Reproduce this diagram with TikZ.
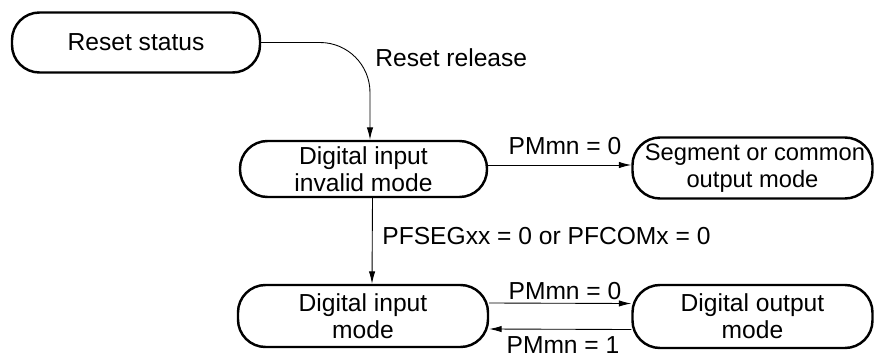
\documentclass[tikz,border=0pt]{standalone}
\usepackage{fontspec}
\setmainfont{Liberation Sans}
\usepackage{tikz}
\usetikzlibrary{arrows.meta, positioning, calc}
\definecolor{mydark}{RGB}{0,0,0}
\tikzset{
  state/.style={rectangle, rounded corners=0.55cm, draw=mydark, line width=1.4pt,
    minimum height=1.2cm, align=center, inner sep=1pt,
    font=\fontsize{14}{15.5}\selectfont},
  arrow/.style={-{Latex[length=7pt, width=3.6pt]}, line width=0.5pt, color=mydark},
  lbl/.style={font=\fontsize{14}{15.5}\selectfont, inner sep=0pt}
}
\begin{document}
\begin{tikzpicture}
  \useasboundingbox (0,0) rectangle (17.48,-7.12);
  % states
  \node[state, minimum width=4.96cm]  (reset)   at (2.72,-0.85) {Reset status};
  \node[state, minimum width=4.94cm, minimum height=1.12cm] (invalid) at (7.27,-3.38) {Digital input\\invalid mode};
  \node[state, minimum width=4.8cm, minimum height=1.22cm,
        font=\fontsize{13.5}{15.5}\selectfont] (segment) at (15.05,-3.36) {\hspace*{0.1cm}Segment or common\\output mode};
  \node[state, minimum width=5.0cm, minimum height=1.24cm]  (input)   at (7.26,-6.32) {Digital input\\mode};
  \node[state, minimum width=4.8cm, minimum height=1.26cm] (output)  at (15.05,-6.33) {Digital output\\mode};
  % transitions
  \draw[arrow, rounded corners=1cm] (reset.east) -| ([xshift=0.13cm]invalid.north);
  \draw[arrow] ([yshift=0.08cm]invalid.east) -- ([yshift=0.08cm]invalid.east -| segment.west);
  \draw[arrow] ([xshift=0.18cm]invalid.south) -- ([xshift=0.18cm]input.north);
  \draw[arrow] ([yshift=0.26cm]input.east) -- ([yshift=0.26cm]output.west);
  \draw[arrow] ([yshift=-0.26cm]output.west) -- ([yshift=-0.26cm]input.east);
  % labels
  \node[lbl, anchor=west] (lrel) at (7.5,-1.16) {Reset release};
  \node[lbl] (lpm1) at (11.3,-2.92) {PMmn = 0};
  \node[lbl, anchor=west] (lpf) at (7.64,-4.72) {PFSEGxx = 0 or PFCOMx = 0};
  \node[lbl] (lpm2) at (11.3,-5.82) {PMmn = 0};
  \node[lbl] (lpm3) at (11.26,-6.9) {PMmn = 1};
\end{tikzpicture}
\end{document}
